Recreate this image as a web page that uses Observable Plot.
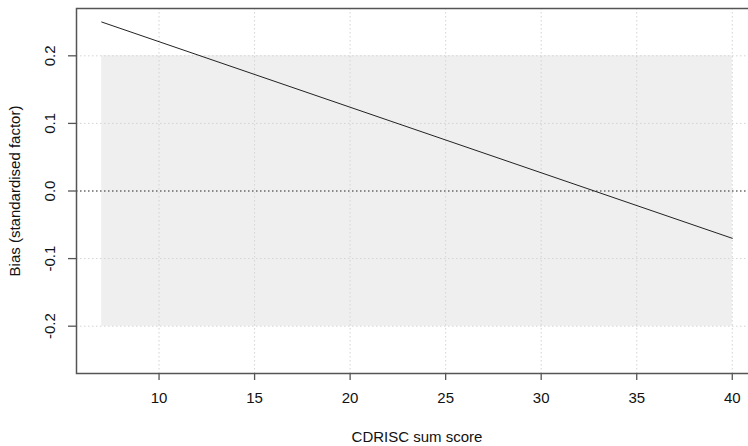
<!DOCTYPE html>
<html>
<head>
<meta charset="utf-8">
<script src="https://cdn.jsdelivr.net/npm/d3@7"></script>
<script src="https://cdn.jsdelivr.net/npm/@observablehq/plot@0.6"></script>
<style>
html, body { margin: 0; padding: 0; background: #fff; overflow: hidden; width: 748px; height: 446px; }
#chart { width: 748px; height: 446px; overflow: hidden; }
svg { font-family: "Liberation Sans", Arial, sans-serif; max-width: none !important; }
</style>
</head>
<body>
<div id="chart"></div>
<script>
// Data
const xTicks = [10, 15, 20, 25, 30, 35, 40];
const yTicks = [-0.2, -0.1, 0.0, 0.1, 0.2];
const yTickLabels = ["-0.2", "-0.1", "0.0", "0.1", "0.2"];
const lineX = [7, 40];
const lineY = [0.25, -0.07];
const bandX = [7, 40];
const bandLow = [-0.2, -0.2];
const bandHigh = [0.2, 0.2];
const xLabel = "CDRISC sum score";
const yLabel = "Bias (standardised factor)";

const lineData = lineX.map((x, i) => ({x, y: lineY[i]}));
const bandData = bandX.map((x, i) => ({x, lo: bandLow[i], hi: bandHigh[i]}));
const yTickData = yTicks.map((v, i) => ({v, label: yTickLabels[i]}));

const FS = 15;
const chart = Plot.plot({
  width: 758,
  height: 446,
  marginLeft: 76,
  marginTop: 8,
  marginBottom: 73,
  marginRight: 1,
  x: {type: "linear", domain: [5.68, 41.32], axis: null},
  y: {type: "linear", domain: [-0.27, 0.27], axis: null},
  style: {fontFamily: "'Liberation Sans', Arial, sans-serif", fontSize: FS + "px", background: "#fff", maxWidth: "none"},
  marks: [
    Plot.areaY(bandData, {x: "x", y1: "lo", y2: "hi", fill: "#efefef"}),
    Plot.gridX(xTicks, {stroke: "#d3d3d3", strokeOpacity: 1, strokeDasharray: "1.5,2.5", strokeWidth: 1}),
    Plot.gridY(yTicks, {stroke: "#d3d3d3", strokeOpacity: 1, strokeDasharray: "1.5,2.5", strokeWidth: 1}),
    Plot.ruleY([0], {stroke: "#333", strokeDasharray: "1.5,2.5", strokeWidth: 1.2}),
    Plot.line(lineData, {x: "x", y: "y", stroke: "#222", strokeWidth: 1}),
    Plot.frame({stroke: "#555", strokeWidth: 1.5}),
    Plot.axisX(xTicks, {tickSize: 7, tickPadding: 12, stroke: "#555", strokeWidth: 1.3, fontSize: FS, fill: "#111", label: null, tickFormat: d => String(d)}),
    Plot.axisY(yTicks, {tickSize: 8, text: null, stroke: "#555", strokeWidth: 1.3, label: null}),
    Plot.text(yTickData, {y: "v", text: "label", frameAnchor: "left", dx: -26, rotate: -90, fontSize: FS, fill: "#111", textAnchor: "middle", lineAnchor: "middle"}),
    Plot.text([xLabel], {text: d => d, frameAnchor: "bottom", dy: 64, fontSize: FS, fill: "#111", textAnchor: "middle", lineAnchor: "middle"}),
    Plot.text([yLabel], {text: d => d, frameAnchor: "left", dx: -61, rotate: -90, fontSize: FS, fill: "#111", textAnchor: "middle", lineAnchor: "middle"})
  ]
});
document.getElementById("chart").appendChild(chart);
</script>
</body>
</html>
